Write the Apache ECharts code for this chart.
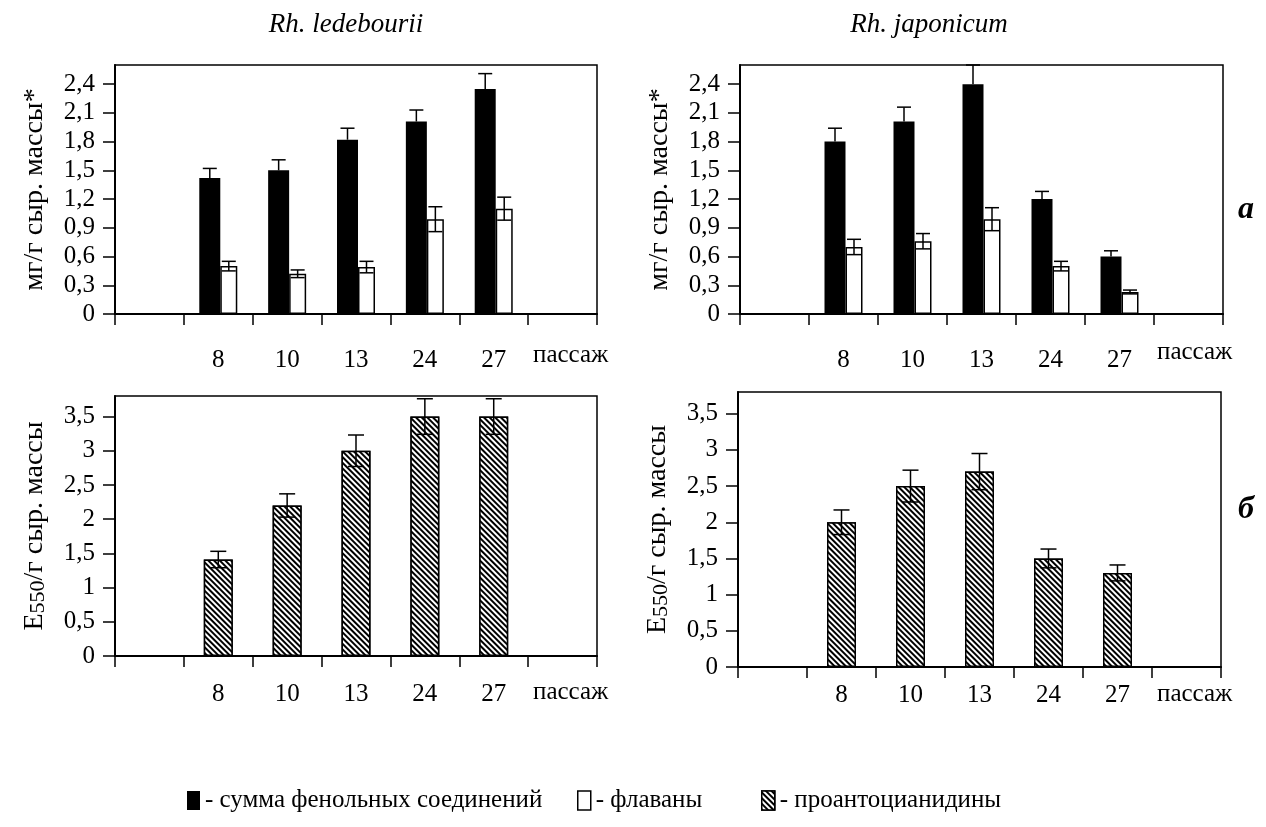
<!DOCTYPE html>
<html>
<head>
<meta charset="utf-8">
<script src="https://cdn.jsdelivr.net/npm/echarts@6/dist/echarts.min.js"></script>
<style>
  html, body { margin: 0; padding: 0; background: #fff; }
  #main { width: 1266px; height: 827px; }
</style>
</head>
<body>
<div id="main"></div>
<script>
// passage numbers, with an empty slot on each side as in the original
const cats = ['', '8', '10', '13', '24', '27', ''];

// Rh. ledebourii
const sumLed = [1.42, 1.50, 1.82, 2.01, 2.35];
const sumLedErr = [0.10, 0.11, 0.12, 0.12, 0.16];
const flavLed = [0.50, 0.42, 0.49, 0.99, 1.10];
const flavLedErr = [0.05, 0.04, 0.06, 0.13, 0.12];
const proLed = [1.41, 2.20, 3.00, 3.50, 3.50];
const proLedErr = [0.12, 0.17, 0.23, 0.26, 0.26];

// Rh. japonicum
const sumJap = [1.80, 2.01, 2.40, 1.20, 0.60];
const sumJapErr = [0.14, 0.15, 0.20, 0.08, 0.06];
const flavJap = [0.70, 0.76, 0.99, 0.50, 0.23];
const flavJapErr = [0.08, 0.08, 0.12, 0.05, 0.02];
const proJap = [2.00, 2.50, 2.70, 1.50, 1.30];
const proJapErr = [0.17, 0.22, 0.25, 0.13, 0.11];

// tick labels
const ticksMg = [0, 0.3, 0.6, 0.9, 1.2, 1.5, 1.8, 2.1, 2.4];
const ticksE = [0, 0.5, 1, 1.5, 2, 2.5, 3, 3.5];

const FONT = 'Liberation Serif';
const NAME_SUM = 'сумма фенольных соединений';
const NAME_FLAV = 'флаваны';
const NAME_PRO = 'проантоцианидины';

const pad = arr => ['-'].concat(arr, ['-']);
const errData = (vals, errs) => vals.map((v, i) => [i + 1, v, errs[i]]);

const hatch = {
    symbol: 'rect',
    symbolSize: 1,
    color: '#000',
    backgroundColor: '#fff',
    dashArrayX: [1, 0],
    dashArrayY: [2, 2],
    rotation: Math.PI / 4
};

// error bar drawn on top of a bar, dx = offset from category centre
function errorBar(dx, cap, upOnly) {
    return function (params, api) {
        const i = api.value(0);
        const v = api.value(1);
        const e = api.value(2);
        const top = api.coord([i, v + e]);
        const bot = api.coord([i, upOnly ? v : v - e]);
        const x = top[0] + dx;
        const style = { stroke: '#000', lineWidth: 1.5 };
        const children = [
            { type: 'line', shape: { x1: x, y1: top[1], x2: x, y2: bot[1] }, style: style },
            { type: 'line', shape: { x1: x - cap / 2, y1: top[1], x2: x + cap / 2, y2: top[1] }, style: style }
        ];
        if (!upOnly) {
            children.push({ type: 'line', shape: { x1: x - cap / 2, y1: bot[1], x2: x + cap / 2, y2: bot[1] }, style: style });
        }
        return { type: 'group', children: children };
    };
}

function xAxisFor(gridIndex, margin) {
    return {
        type: 'category',
        gridIndex: gridIndex,
        data: cats,
        boundaryGap: true,
        axisLine: { lineStyle: { color: '#000', width: 2 } },
        axisTick: { show: true, alignWithLabel: false, interval: 0, length: 11, lineStyle: { color: '#000', width: 1.5 } },
        axisLabel: { interval: 0, margin: margin, fontSize: 25, fontFamily: FONT, color: '#000' },
        splitLine: { show: false }
    };
}

function yAxisFor(gridIndex, max, interval, ticks, name) {
    return {
        type: 'value',
        gridIndex: gridIndex,
        min: 0,
        max: max,
        interval: interval,
        name: name,
        nameLocation: 'middle',
        nameGap: 66,
        nameTextStyle: {
            fontSize: 28, fontFamily: FONT, color: '#000',
            rich: {
                e: { fontSize: 28, fontFamily: FONT, color: '#000' },
                s: { fontSize: 22, fontFamily: FONT, color: '#000', verticalAlign: 'bottom' }
            }
        },
        axisLine: { show: true, lineStyle: { color: '#000', width: 2 } },
        axisTick: { show: true, length: 12, customValues: ticks, lineStyle: { color: '#000', width: 1.5 } },
        axisLabel: {
            margin: 20, fontSize: 25, fontFamily: FONT, color: '#000',
            customValues: ticks,
            formatter: v => String(v).replace('.', ',')
        },
        splitLine: { show: false }
    };
}

const chart = echarts.init(document.getElementById('main'));

const legendText = { fontSize: 25, fontFamily: FONT, color: '#000' };

const option = {
    animation: false,
    backgroundColor: '#fff',
    title: [
        { text: 'Rh. ledebourii', left: 341, top: 6, textAlign: 'center',
          textStyle: { fontFamily: FONT, fontStyle: 'italic', fontWeight: 'normal', fontSize: 27, color: '#000' } },
        { text: 'Rh. japonicum', left: 924, top: 6, textAlign: 'center',
          textStyle: { fontFamily: FONT, fontStyle: 'italic', fontWeight: 'normal', fontSize: 27, color: '#000' } }
    ],
    legend: [
        { data: [NAME_SUM], left: 182, top: 783, selectedMode: false, icon: 'rect', itemWidth: 13, itemHeight: 19,
          formatter: '- {name}', textStyle: legendText },
        { data: [{ name: NAME_FLAV, itemStyle: { color: '#fff', borderColor: '#000', borderWidth: 1.5 } }],
          left: 572, top: 783, selectedMode: false, icon: 'rect', itemWidth: 13, itemHeight: 19,
          formatter: '- {name}', textStyle: legendText },
        { data: [{ name: NAME_PRO, itemStyle: { borderColor: '#000', borderWidth: 1.5 } }],
          left: 756, top: 783, selectedMode: false, icon: 'rect', itemWidth: 13, itemHeight: 19,
          formatter: '- {name}', textStyle: legendText }
    ],
    grid: [
        { left: 115, top: 65, width: 482, height: 249, show: true, borderColor: '#000', borderWidth: 1.5 },
        { left: 740, top: 65, width: 483, height: 249, show: true, borderColor: '#000', borderWidth: 1.5 },
        { left: 115, top: 396, width: 482, height: 260, show: true, borderColor: '#000', borderWidth: 1.5 },
        { left: 738, top: 392, width: 483, height: 275, show: true, borderColor: '#000', borderWidth: 1.5 }
    ],
    xAxis: [xAxisFor(0, 34), xAxisFor(1, 34), xAxisFor(2, 26), xAxisFor(3, 16)],
    yAxis: [
        yAxisFor(0, 2.6, 0.3, ticksMg, 'мг/г сыр. массы*'),
        yAxisFor(1, 2.6, 0.3, ticksMg, 'мг/г сыр. массы*'),
        yAxisFor(2, 3.8, 0.5, ticksE, '{e|E}{s|550}{e|/г сыр. массы}'),
        yAxisFor(3, 3.8, 0.5, ticksE, '{e|E}{s|550}{e|/г сыр. массы}')
    ],
    graphic: [
        { type: 'text', left: 533, top: 343, style: { text: 'пассаж', font: '25px "Liberation Serif"', fill: '#000' } },
        { type: 'text', left: 1157, top: 340, style: { text: 'пассаж', font: '25px "Liberation Serif"', fill: '#000' } },
        { type: 'text', left: 533, top: 680, style: { text: 'пассаж', font: '25px "Liberation Serif"', fill: '#000' } },
        { type: 'text', left: 1157, top: 682, style: { text: 'пассаж', font: '25px "Liberation Serif"', fill: '#000' } },
        { type: 'text', left: 1238, top: 194, style: { text: 'а', font: 'italic bold 32px "Liberation Serif"', fill: '#000' } },
        { type: 'text', left: 1238, top: 494, style: { text: 'б', font: 'italic bold 32px "Liberation Serif"', fill: '#000' } }
    ],
    series: [
        // top-left
        { name: NAME_SUM, type: 'bar', xAxisIndex: 0, yAxisIndex: 0, data: pad(sumLed), barWidth: 21, barGap: '0%',
          itemStyle: { color: '#000' } },
        { name: NAME_FLAV, type: 'bar', xAxisIndex: 0, yAxisIndex: 0, data: pad(flavLed), barWidth: 17, barGap: '0%',
          itemStyle: { color: '#fff', borderColor: '#000', borderWidth: 1.5 } },
        { type: 'custom', xAxisIndex: 0, yAxisIndex: 0, data: errData(sumLed, sumLedErr), renderItem: errorBar(-8.5, 14, true), z: 5 },
        { type: 'custom', xAxisIndex: 0, yAxisIndex: 0, data: errData(flavLed, flavLedErr), renderItem: errorBar(10.5, 14, false), z: 5 },
        // top-right
        { name: NAME_SUM, type: 'bar', xAxisIndex: 1, yAxisIndex: 1, data: pad(sumJap), barWidth: 21, barGap: '0%',
          itemStyle: { color: '#000' } },
        { name: NAME_FLAV, type: 'bar', xAxisIndex: 1, yAxisIndex: 1, data: pad(flavJap), barWidth: 17, barGap: '0%',
          itemStyle: { color: '#fff', borderColor: '#000', borderWidth: 1.5 } },
        { type: 'custom', xAxisIndex: 1, yAxisIndex: 1, data: errData(sumJap, sumJapErr), renderItem: errorBar(-8.5, 14, true), z: 5 },
        { type: 'custom', xAxisIndex: 1, yAxisIndex: 1, data: errData(flavJap, flavJapErr), renderItem: errorBar(10.5, 14, false), z: 5 },
        // bottom-left
        { name: NAME_PRO, type: 'bar', xAxisIndex: 2, yAxisIndex: 2, data: pad(proLed), barWidth: 29,
          itemStyle: { color: '#fff', borderColor: '#000', borderWidth: 1.5, decal: hatch } },
        { type: 'custom', xAxisIndex: 2, yAxisIndex: 2, data: errData(proLed, proLedErr), renderItem: errorBar(0, 16, false), z: 5 },
        // bottom-right
        { name: NAME_PRO, type: 'bar', xAxisIndex: 3, yAxisIndex: 3, data: pad(proJap), barWidth: 29,
          itemStyle: { color: '#fff', borderColor: '#000', borderWidth: 1.5, decal: hatch } },
        { type: 'custom', xAxisIndex: 3, yAxisIndex: 3, data: errData(proJap, proJapErr), renderItem: errorBar(0, 16, false), z: 5 }
    ]
};

chart.setOption(option);
</script>
</body>
</html>
